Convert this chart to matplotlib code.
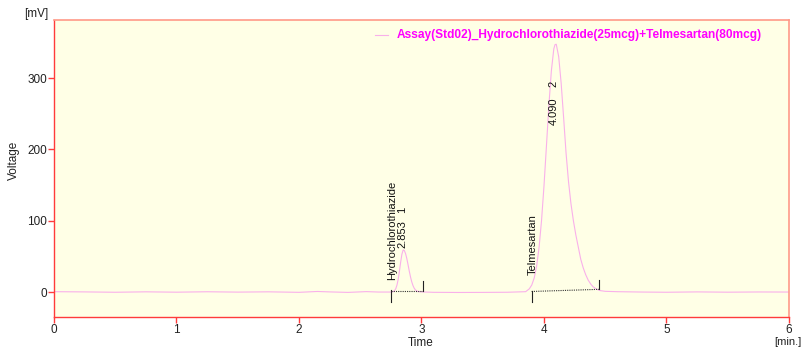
import matplotlib
matplotlib.use("Agg")
import matplotlib.pyplot as plt

plt.rcParams['font.family'] = ['Liberation Sans', 'DejaVu Sans']

# ---- data (time in min, signal in mV) ----
time_min = [0.00, 0.25, 0.50, 0.75, 1.00, 1.25, 1.50, 1.75, 2.00, 2.15, 2.25, 2.40, 2.55, 2.65,
            2.75, 2.76, 2.77, 2.78, 2.79, 2.80, 2.81, 2.82, 2.83, 2.84, 2.85, 2.853, 2.86, 2.87,
            2.88, 2.89, 2.90, 2.91, 2.92, 2.93, 2.94, 2.95, 2.96, 2.97, 2.98, 3.00, 3.10, 3.30,
            3.50, 3.70, 3.85, 3.88, 3.90, 3.92, 3.94, 3.96, 3.98, 4.00, 4.02, 4.04, 4.06, 4.08,
            4.09, 4.10, 4.12, 4.14, 4.16, 4.18, 4.20, 4.22, 4.24, 4.26, 4.28, 4.30, 4.32, 4.34,
            4.36, 4.38, 4.40, 4.42, 4.44, 4.46, 4.50, 4.60, 4.80, 5.00, 5.25, 5.50, 5.75, 6.00]
voltage_mv = [0.5, 0.2, -0.3, 0.3, -0.2, 0.4, -0.1, 0.3, -0.4, 0.8, 0.2, -0.5, 0.6, 0.0,
              0.0, 0.24, 0.7, 2.0, 4.7, 9.9, 18.1, 29.4, 42.1, 53.0, 58.8, 59.0, 58.1, 53.9,
              47.0, 38.5, 29.5, 21.4, 14.5, 9.3, 5.5, 3.1, 1.7, 0.9, 0.5, 0.2, -0.4, -0.6,
              -0.5, -0.3, 0.5, 4.5, 9.8, 19.7, 36.5, 62.9, 100.6, 149.0, 205.0, 262.0, 310.0, 341.0,
              347.0, 347.5, 330.0, 293.0, 245.0, 195.0, 155.0, 124.0, 100.0, 80.0, 63.0, 46.0, 34.0, 24.5,
              17.0, 11.5, 7.5, 5.0, 3.2, 2.0, 1.0, 0.5, 0.0, -0.3, 0.2, -0.2, 0.1, 0.0]

# peak annotations
peak_names = ["Hydrochlorothiazide", "Telmesartan"]
peak_rt_labels = ["2.853", "4.090"]
peak_numbers = ["1", "2"]
peak_rt = [2.853, 4.090]
# integration baselines: (start time, start mV, end time, end mV)
int_start_t = [2.748, 3.899]
int_start_v = [1.8, 0.8]
int_end_t = [3.015, 4.452]
int_end_v = [1.8, 3.8]

legend_label = "Assay(Std02)_Hydrochlorothiazide(25mcg)+Telmesartan(80mcg)"
x_ticks = [0, 1, 2, 3, 4, 5, 6]
y_ticks = [0, 100, 200, 300]

# ---- figure ----
fig = plt.figure(figsize=(8.03, 3.49), dpi=100)
ax = fig.add_axes([54/803, 1-317/349, (789-54)/803, (317-20)/349])
ax.set_facecolor('#ffffe6')
ax.set_xlim(0, 6)
ax.set_ylim(-35, 381.5)

curve_color = '#f9b0ea'
ax.plot(time_min, voltage_mv, color=curve_color, lw=0.8)

# integration marks
for ts, vs, te, ve in zip(int_start_t, int_start_v, int_end_t, int_end_v):
    ax.plot([ts, te], [vs, ve], color='#333333', lw=0.8, ls=(0, (1, 1)))
    ax.plot([ts, ts], [vs + 1, -13.6], color='#222222', lw=0.8)
    ax.plot([te, te], [ve, ve + 13.5], color='#222222', lw=0.8)

# peak labels
name_offsets = [16.8, 23.8]
rt_x = [2.844, 4.076]
rt_bottom = [62, 234]
num_bottom = [(292 - 212.5) / 0.7133, 288]
for i in range(2):
    ax.text(int_start_t[i] + 0.01, name_offsets[i], peak_names[i], rotation=90,
            ha='center', va='bottom', fontsize=8, color='#111111')
    ax.text(rt_x[i], rt_bottom[i], peak_rt_labels[i], rotation=90,
            ha='center', va='bottom', fontsize=8, color='#111111')
    ax.text(rt_x[i], num_bottom[i], peak_numbers[i], rotation=90, ha='center', va='bottom',
            fontsize=8, color='#111111')

# legend
ax.plot([2.62, 2.73], [360, 360], color=curve_color, lw=0.8)
ax.text(2.80, 360, legend_label, color='#ff00ff', fontsize=8.55, fontweight='bold',
        va='center', ha='left')

# spines
for s in ['left', 'bottom']:
    ax.spines[s].set_color('#ff3b3b')
    ax.spines[s].set_linewidth(1.0)
for s in ['top', 'right']:
    ax.spines[s].set_color('#ff9a88')
    ax.spines[s].set_linewidth(1.2)

ax.set_xticks(x_ticks)
ax.set_yticks(y_ticks)
ax.tick_params(axis='both', colors='#ff3b3b', length=4, width=1.0,
               labelcolor='#222222', labelsize=8.5, pad=1)

fig.text(48/803, 1-14/349, "[mV]", ha='right', va='center', fontsize=8.5, color='#222222')
fig.text(802/803, 1-342/349, "[min.]", ha='right', va='center', fontsize=8, color='#222222')
fig.text(421/803, 1-343/349, "Time", ha='center', va='center', fontsize=8.5, color='#222222')
fig.text(14/803, 1-160/349, "Voltage", ha='center', va='center', rotation=90,
         fontsize=8.5, color='#222222')

fig.savefig('out.png', dpi=100)
